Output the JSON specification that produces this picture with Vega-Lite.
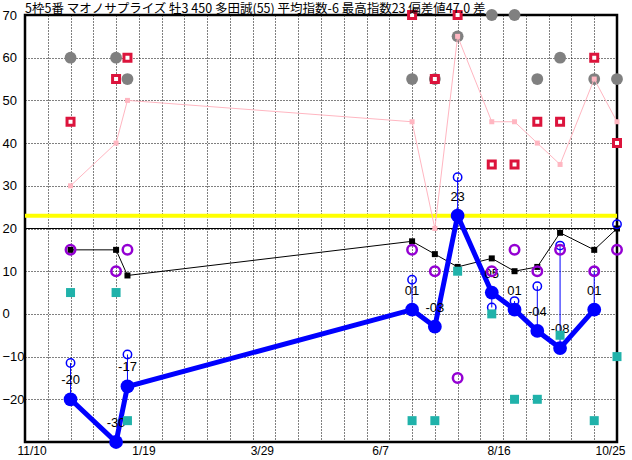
{
  "$schema": "https://vega.github.io/schema/vega-lite/v6.json",
  "width": 592,
  "height": 427,
  "autosize": {"type": "none"},
  "padding": {"left": 25, "top": 15, "right": 15, "bottom": 18},
  "background": "white",
  "title": {
    "text": "5枠5番 マオノサプライズ 牡3 450 多田誠(55) 平均指数-6 最高指数23 偏差値47.0 差",
    "anchor": "start",
    "frame": "group",
    "offset": -7,
    "dy": 3,
    "fontSize": 12.5,
    "font": "Noto Sans CJK JP",
    "fontWeight": "normal",
    "color": "black"
  },
  "config": {
    "view": {"stroke": "black", "strokeWidth": 2.5},
    "axis": {"labelColor": "black", "labelFont": "Liberation Sans", "labelFontSize": 13}
  },
  "data": {
    "values": [
      {"day": 28, "gray": 60, "red": 45, "pink": 30, "blk": 15, "purple": 15, "teal": 5, "idx": -20, "lbl": "-20", "hollow": -11.5},
      {"day": 56, "gray": 60, "red": 55, "pink": 40, "blk": 15, "purple": 10, "teal": 5, "idx": -30, "lbl": "-30", "hollow": null},
      {"day": 63, "gray": 55, "red": 60, "pink": 50, "blk": 9, "purple": 15, "teal": -25, "idx": -17, "lbl": "-17", "hollow": -9.5},
      {"day": 238, "gray": 55, "red": 70, "pink": 45, "blk": 17, "purple": 15, "teal": -25, "idx": 1, "lbl": "01", "hollow": 8},
      {"day": 252, "gray": 55, "red": 55, "pink": 20, "blk": 14, "purple": 10, "teal": -25, "idx": -3, "lbl": "-03", "hollow": null},
      {"day": 266, "gray": 65, "red": 70, "pink": 65, "blk": 11, "purple": -15, "teal": 10, "idx": 23, "lbl": "23", "hollow": 32},
      {"day": 287, "gray": 70, "red": 35, "pink": 45, "blk": 13, "purple": 10, "teal": 0, "idx": 5, "lbl": "05", "hollow": 1.5},
      {"day": 301, "gray": 70, "red": 35, "pink": 45, "blk": 10, "purple": 15, "teal": -20, "idx": 1, "lbl": "01", "hollow": 3},
      {"day": 315, "gray": 55, "red": 45, "pink": 40, "blk": 11, "purple": 10, "teal": -20, "idx": -4, "lbl": "-04", "hollow": 6.5},
      {"day": 329, "gray": 60, "red": 45, "pink": 35, "blk": 19, "purple": 15, "teal": -5, "idx": -8, "lbl": "-08", "hollow": 16},
      {"day": 350, "gray": 55, "red": 60, "pink": 55, "blk": 15, "purple": 10, "teal": -25, "idx": 1, "lbl": "01", "hollow": 10},
      {"day": 364, "gray": 55, "red": 40, "pink": 45, "blk": 20, "purple": 15, "teal": -10, "idx": null, "lbl": null, "hollow": 21}
    ]
  },
  "resolve": {"scale": {"x": "independent"}, "axis": {"x": "independent"}},
  "layer": [
    {
      "mark": {"type": "point", "shape": "circle", "filled": true, "color": "#808080", "size": 140, "opacity": 1},
      "encoding": {
        "x": {"field": "day", "type": "quantitative", "scale": {"domain": [0, 364], "nice": false, "zero": false},
          "axis": {"orient": "bottom", "values": [14, 28, 42, 56, 70, 84, 98, 112, 126, 140, 154, 168, 182, 196, 210, 224, 238, 252, 266, 280, 294, 308, 322, 336, 350],
            "grid": true, "gridColor": "black", "gridDash": [1, 2], "gridWidth": 1, "gridOpacity": 1, "labels": false, "ticks": false, "domain": false, "title": null}},
        "y": {"field": "gray", "type": "quantitative", "scale": {"domain": [-30, 70], "nice": false, "zero": false},
          "axis": {"orient": "left", "values": [-20, -10, 0, 10, 20, 30, 40, 50, 60, 70], "grid": true, "gridColor": "black", "gridDash": [1, 2], "gridWidth": 1, "gridOpacity": 1,
            "ticks": false, "domain": false, "labelAlign": "left", "labelBaseline": "middle", "labelPadding": 23, "title": null}}
      }
    },
    {
      "data": {"values": [{"v": 23}]},
      "mark": {"type": "rule", "color": "#FFFF00", "strokeWidth": 4},
      "encoding": {"y": {"field": "v", "type": "quantitative", "scale": {"domain": [-30, 70], "nice": false, "zero": false}}}
    },
    {
      "data": {"values": [{"v": 20}]},
      "mark": {"type": "rule", "color": "black", "strokeWidth": 1},
      "encoding": {"y": {"field": "v", "type": "quantitative", "scale": {"domain": [-30, 70], "nice": false, "zero": false}}}
    },
    {
      "mark": {"type": "point", "shape": "square", "filled": false, "fill": "white", "fillOpacity": 1, "stroke": "#DC143C", "strokeWidth": 3, "size": 49, "opacity": 1},
      "encoding": {
        "x": {"field": "day", "type": "quantitative", "scale": {"domain": [0, 364], "nice": false, "zero": false},
          "axis": {"orient": "bottom", "values": [0, 72.8, 145.6, 218.4, 291.2, 364],
            "labelExpr": "datum.value < 1 ? '11/10' : datum.value < 100 ? '1/19' : datum.value < 200 ? '3/29' : datum.value < 250 ? '6/7' : datum.value < 300 ? '8/16' : '10/25'",
            "grid": false, "ticks": false, "domain": false, "labelPadding": 3, "labelFontSize": 12, "labelFlush": true, "labelFlushOffset": 8, "labelOverlap": false, "labelBound": false, "title": null}},
        "y": {"field": "red", "type": "quantitative", "scale": {"domain": [-30, 70], "nice": false, "zero": false}}
      }
    },
    {
      "mark": {"type": "line", "color": "#FFB6C1", "strokeWidth": 1, "point": {"shape": "square", "filled": true, "color": "#FFB6C1", "size": 25, "opacity": 1}},
      "encoding": {
        "x": {"field": "day", "type": "quantitative", "scale": {"domain": [0, 364], "nice": false, "zero": false}, "axis": null},
        "y": {"field": "pink", "type": "quantitative", "scale": {"domain": [-30, 70], "nice": false, "zero": false}}
      }
    },
    {
      "mark": {"type": "line", "color": "black", "strokeWidth": 1, "point": {"shape": "square", "filled": true, "color": "black", "size": 36, "opacity": 1}},
      "encoding": {
        "x": {"field": "day", "type": "quantitative", "scale": {"domain": [0, 364], "nice": false, "zero": false}, "axis": null},
        "y": {"field": "blk", "type": "quantitative", "scale": {"domain": [-30, 70], "nice": false, "zero": false}}
      }
    },
    {
      "mark": {"type": "rule", "color": "#0000FF", "strokeWidth": 1},
      "encoding": {
        "x": {"field": "day", "type": "quantitative", "scale": {"domain": [0, 364], "nice": false, "zero": false}, "axis": null},
        "y": {"field": "idx", "type": "quantitative", "scale": {"domain": [-30, 70], "nice": false, "zero": false}},
        "y2": {"field": "hollow"}
      }
    },
    {
      "mark": {"type": "line", "color": "#0000FF", "strokeWidth": 5},
      "encoding": {
        "x": {"field": "day", "type": "quantitative", "scale": {"domain": [0, 364], "nice": false, "zero": false}, "axis": null},
        "y": {"field": "idx", "type": "quantitative", "scale": {"domain": [-30, 70], "nice": false, "zero": false}}
      }
    },
    {
      "mark": {"type": "point", "shape": "circle", "filled": true, "color": "#0000FF", "size": 190, "opacity": 1},
      "encoding": {
        "x": {"field": "day", "type": "quantitative", "scale": {"domain": [0, 364], "nice": false, "zero": false}, "axis": null},
        "y": {"field": "idx", "type": "quantitative", "scale": {"domain": [-30, 70], "nice": false, "zero": false}}
      }
    },
    {
      "mark": {"type": "point", "shape": "circle", "filled": false, "stroke": "#0000FF", "strokeWidth": 1.5, "size": 70, "opacity": 1},
      "encoding": {
        "x": {"field": "day", "type": "quantitative", "scale": {"domain": [0, 364], "nice": false, "zero": false}, "axis": null},
        "y": {"field": "hollow", "type": "quantitative", "scale": {"domain": [-30, 70], "nice": false, "zero": false}}
      }
    },
    {
      "mark": {"type": "text", "color": "black", "font": "Liberation Sans", "fontSize": 13, "dy": -19, "baseline": "middle", "align": "center"},
      "encoding": {
        "x": {"field": "day", "type": "quantitative", "scale": {"domain": [0, 364], "nice": false, "zero": false}, "axis": null},
        "y": {"field": "idx", "type": "quantitative", "scale": {"domain": [-30, 70], "nice": false, "zero": false}},
        "text": {"field": "lbl"}
      }
    },
    {
      "mark": {"type": "point", "shape": "circle", "filled": false, "stroke": "#9400D3", "strokeWidth": 2.5, "size": 90, "opacity": 1},
      "encoding": {
        "x": {"field": "day", "type": "quantitative", "scale": {"domain": [0, 364], "nice": false, "zero": false}, "axis": null},
        "y": {"field": "purple", "type": "quantitative", "scale": {"domain": [-30, 70], "nice": false, "zero": false}}
      }
    },
    {
      "mark": {"type": "point", "shape": "square", "filled": true, "color": "#20B2AA", "size": 81, "opacity": 1},
      "encoding": {
        "x": {"field": "day", "type": "quantitative", "scale": {"domain": [0, 364], "nice": false, "zero": false}, "axis": null},
        "y": {"field": "teal", "type": "quantitative", "scale": {"domain": [-30, 70], "nice": false, "zero": false}}
      }
    }
  ]
}
